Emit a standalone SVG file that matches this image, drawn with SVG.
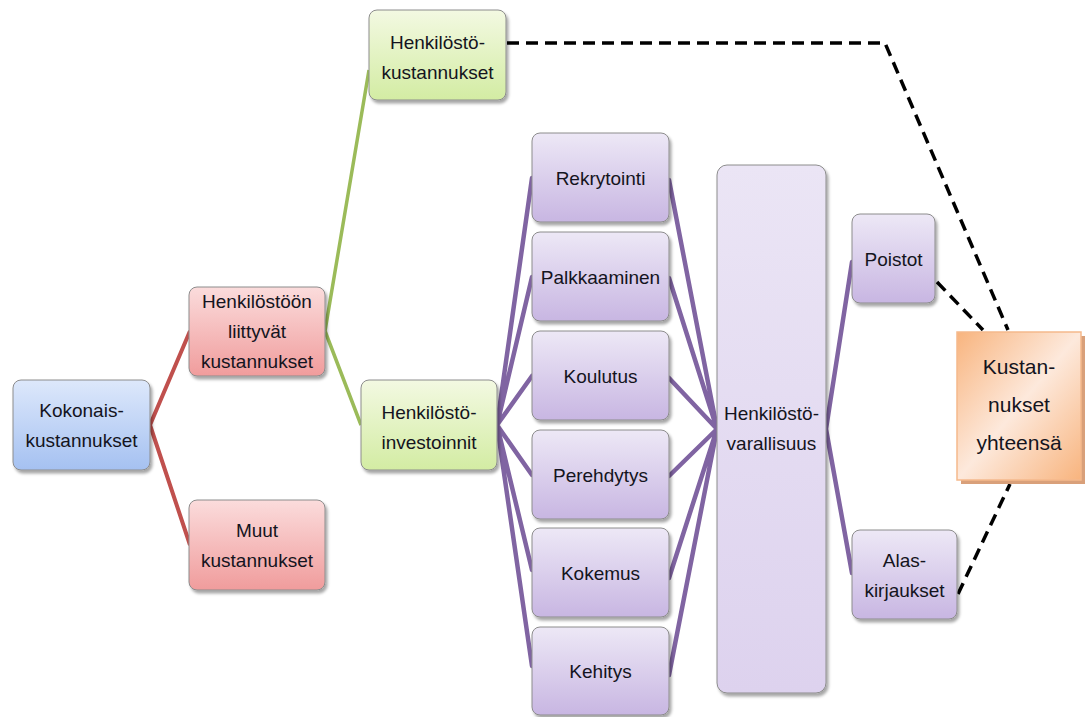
<svg xmlns="http://www.w3.org/2000/svg" width="1086" height="717" viewBox="0 0 1086 717">
  <defs>
    <linearGradient id="gBlue" x1="0" y1="0" x2="0" y2="1">
      <stop offset="0" stop-color="#dde8fb"/>
      <stop offset="1" stop-color="#a5c1f1"/>
    </linearGradient>
    <linearGradient id="gRed" x1="0" y1="0" x2="0" y2="1">
      <stop offset="0" stop-color="#fbdcdc"/>
      <stop offset="1" stop-color="#f09c9c"/>
    </linearGradient>
    <linearGradient id="gGreen" x1="0" y1="0" x2="0" y2="1">
      <stop offset="0" stop-color="#f3f9e2"/>
      <stop offset="1" stop-color="#d3eca3"/>
    </linearGradient>
    <linearGradient id="gPurple" x1="0" y1="0" x2="0" y2="1">
      <stop offset="0" stop-color="#ede8f6"/>
      <stop offset="1" stop-color="#c8b6e2"/>
    </linearGradient>
    <linearGradient id="gPurpleTall" x1="0" y1="0" x2="0" y2="1">
      <stop offset="0" stop-color="#ebe5f5"/>
      <stop offset="1" stop-color="#ddd2ee"/>
    </linearGradient>
    <linearGradient id="gOrange" x1="0" y1="0" x2="1" y2="1">
      <stop offset="0" stop-color="#f8b47e"/>
      <stop offset="0.5" stop-color="#fde9dc"/>
      <stop offset="1" stop-color="#f8b47e"/>
    </linearGradient>
    <filter id="shadow" x="-10%" y="-10%" width="130%" height="130%">
      <feDropShadow dx="2" dy="3" stdDeviation="1.5" flood-color="#000" flood-opacity="0.35"/>
    </filter>
  </defs>
  <style>
    .box { stroke: #8c8c8c; stroke-width: 1; filter: url(#shadow); }
    .lbl { font-family: "Liberation Sans", Arial, sans-serif; font-size: 19px; fill: #141420; text-anchor: middle; }
    .big { font-size: 21px; }
    .red { stroke: #c0504d; stroke-width: 4; fill: none; }
    .green { stroke: #9bbb59; stroke-width: 3.5; fill: none; }
    .purple { stroke: #8064a2; stroke-width: 4.5; fill: none; stroke-linecap: round; }
    .dash { stroke: #000; stroke-width: 3.5; fill: none; stroke-dasharray: 12 7; }
  </style>
  <rect width="1086" height="717" fill="#ffffff"/>

  <g id="connectors">
    <path class="red" d="M150,425 L190,331 M150,425 L190,545"/>
    <path class="green" d="M325,331 L369,70 M325,331 L361,425"/>
    <path class="purple" d="M497,425 L532,178 M497,425 L532,277 M497,425 L532,376 M497,425 L532,475 M497,425 L532,570 M497,425 L532,666"/>
    <path class="purple" d="M669,180 L717,429 M669,278 L717,429 M669,378 L717,429 M669,476 L717,429 M669,578 L717,429 M669,675 L717,429"/>
    <path class="purple" d="M826,429 L852,262 M826,429 L852,573"/>
    <path class="dash" d="M507,43 L885,43 L1008,330"/>
    <path class="dash" d="M937,282 L983,330"/>
    <path class="dash" d="M958,594 L1010,484"/>
  </g>

  <g id="node-kokonais">
    <rect class="box" x="13" y="380" width="137" height="90" rx="8" fill="url(#gBlue)"/>
    <text class="lbl" x="81.5" y="417">Kokonais-</text>
    <text class="lbl" x="81.5" y="447">kustannukset</text>
  </g>
  <g id="node-liittyvat">
    <rect class="box" x="189" y="287" width="136" height="89" rx="8" fill="url(#gRed)"/>
    <text class="lbl" x="257" y="308">Henkilöstöön</text>
    <text class="lbl" x="257" y="338">liittyvät</text>
    <text class="lbl" x="257" y="368">kustannukset</text>
  </g>
  <g id="node-muut">
    <rect class="box" x="189" y="500" width="136" height="90" rx="8" fill="url(#gRed)"/>
    <text class="lbl" x="257" y="537">Muut</text>
    <text class="lbl" x="257" y="567">kustannukset</text>
  </g>
  <g id="node-henkilostokustannukset">
    <rect class="box" x="369" y="10" width="137" height="90" rx="8" fill="url(#gGreen)"/>
    <text class="lbl" x="437.5" y="49">Henkilöstö-</text>
    <text class="lbl" x="437.5" y="79">kustannukset</text>
  </g>
  <g id="node-investoinnit">
    <rect class="box" x="361" y="380" width="136" height="90" rx="8" fill="url(#gGreen)"/>
    <text class="lbl" x="429" y="419">Henkilöstö-</text>
    <text class="lbl" x="429" y="449">investoinnit</text>
  </g>

  <g id="node-rekrytointi">
    <rect class="box" x="532" y="133" width="137" height="89" rx="8" fill="url(#gPurple)"/>
    <text class="lbl" x="600.5" y="185">Rekrytointi</text>
  </g>
  <g id="node-palkkaaminen">
    <rect class="box" x="532" y="232" width="137" height="89" rx="8" fill="url(#gPurple)"/>
    <text class="lbl" x="600.5" y="284">Palkkaaminen</text>
  </g>
  <g id="node-koulutus">
    <rect class="box" x="532" y="331" width="137" height="89" rx="8" fill="url(#gPurple)"/>
    <text class="lbl" x="600.5" y="383">Koulutus</text>
  </g>
  <g id="node-perehdytys">
    <rect class="box" x="532" y="430" width="137" height="89" rx="8" fill="url(#gPurple)"/>
    <text class="lbl" x="600.5" y="482">Perehdytys</text>
  </g>
  <g id="node-kokemus">
    <rect class="box" x="532" y="528" width="137" height="89" rx="8" fill="url(#gPurple)"/>
    <text class="lbl" x="600.5" y="580">Kokemus</text>
  </g>
  <g id="node-kehitys">
    <rect class="box" x="532" y="627" width="137" height="88" rx="8" fill="url(#gPurple)"/>
    <text class="lbl" x="600.5" y="678">Kehitys</text>
  </g>

  <g id="node-varallisuus">
    <rect class="box" x="717" y="165" width="109" height="528" rx="10" fill="url(#gPurpleTall)"/>
    <text class="lbl" x="771.5" y="420">Henkilöstö-</text>
    <text class="lbl" x="771.5" y="450">varallisuus</text>
  </g>
  <g id="node-poistot">
    <rect class="box" x="852" y="214" width="83" height="89" rx="8" fill="url(#gPurple)"/>
    <text class="lbl" x="893.5" y="266">Poistot</text>
  </g>
  <g id="node-alaskirjaukset">
    <rect class="box" x="852" y="530" width="105" height="89" rx="8" fill="url(#gPurple)"/>
    <text class="lbl" x="904.5" y="567">Alas-</text>
    <text class="lbl" x="904.5" y="597">kirjaukset</text>
  </g>

  <g id="node-yhteensa">
    <rect x="961" y="336" width="124" height="148" fill="#d9a07a"/>
    <rect x="957" y="332" width="124" height="148" fill="url(#gOrange)" stroke="#f5b98c" stroke-width="1.5"/>
    <text class="lbl big" x="1019" y="374">Kustan-</text>
    <text class="lbl big" x="1019" y="412">nukset</text>
    <text class="lbl big" x="1019" y="450">yhteensä</text>
  </g>
</svg>
